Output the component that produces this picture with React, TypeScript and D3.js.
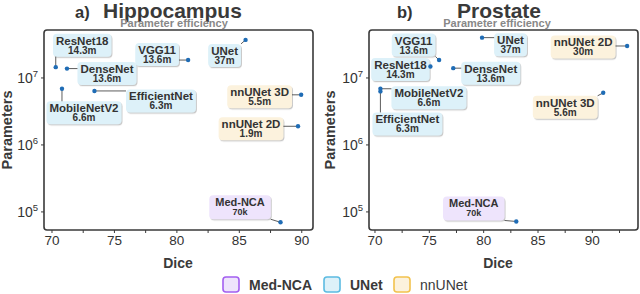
import React, { useEffect, useRef } from "react";
import * as d3 from "d3";

// model names and families (same order in both panels)
const hippoNames = ["ResNet18", "DenseNet", "VGG11", "UNet", "EfficientNet", "MobileNetV2", "nnUNet 3D", "nnUNet 2D", "Med-NCA"];
const hippoFamily = ["UNet", "UNet", "UNet", "UNet", "UNet", "UNet", "nnUNet", "nnUNet", "Med-NCA"];
const hippoDice = [70.3, 71.2, 80.9, 85.5, 73.4, 70.8, 89.95, 89.7, 88.3];
const hippoParams = [14.5e6, 13.8e6, 18.5e6, 37e6, 6.4e6, 6.9e6, 5.6e6, 1.9e6, 70e3];
const hippoParamText = ["14.3m", "13.6m", "13.6m", "37m", "6.3m", "6.6m", "5.5m", "1.9m", "70k"];

const prostNames = ["UNet", "nnUNet 2D", "VGG11", "ResNet18", "DenseNet", "MobileNetV2", "EfficientNet", "nnUNet 3D", "Med-NCA"];
const prostFamily = ["UNet", "nnUNet", "UNet", "UNet", "UNet", "UNet", "UNet", "nnUNet", "Med-NCA"];
const prostDice = [79.85, 93.2, 75.9, 75.1, 77.2, 70.5, 70.5, 91.0, 83.0];
const prostParams = [40e6, 30e6, 18.5e6, 14.8e6, 14e6, 6.9e6, 6.3e6, 6e6, 72e3];
const prostParamText = ["37m", "30m", "13.6m", "14.3m", "13.6m", "6.6m", "6.3m", "5.6m", "70k"];

const xTicks = [70, 75, 80, 85, 90];
const yTicks = [1e5, 1e6, 1e7];
const legendNames = ["Med-NCA", "UNet", "nnUNet"];

// label box offsets from the point, in pixels (layout only)
const hippoOffsets: [number, number][] = [
  [26.5, -22], [40, 5], [-31, -5.5], [-21, 15.5], [66.5, 10], [22, 24], [-41.5, 2], [-47, 2.5], [-40.5, -15],
];
const prostOffsets: [number, number][] = [
  [28.5, 7], [-44, 1], [-25.5, -15], [-30, 3], [37.5, 5], [48.5, 9], [27, 32.5], [-38, 14.5], [-42.5, -13],
];

const fills: Record<string, string> = { "Med-NCA": "#eee4fc", UNet: "#ddf1f9", nnUNet: "#fcf2dd" };
const strokes: Record<string, string> = { "Med-NCA": "#a35ff0", UNet: "#5cbbe1", nnUNet: "#f2c24e" };

const FONT = "'Liberation Sans', Arial, sans-serif";

const App = () => {
  const svgRef = useRef<SVGSVGElement>(null);

  useEffect(() => {
    const svg = d3.select(svgRef.current);
    svg.selectAll("*").remove();

    const defs = svg.append("defs");
    const f = defs.append("filter").attr("id", "sh").attr("x", "-20%").attr("y", "-20%").attr("width", "140%").attr("height", "160%");
    f.append("feDropShadow").attr("dx", 1).attr("dy", 1.2).attr("stdDeviation", 0.6)
      .attr("flood-color", "#888").attr("flood-opacity", 0.45);

    const panels = [
      {
        letter: "a)", title: "Hippocampus", titleX: 103, letterX: 75, subX: 174,
        x0: 44, x1: 313, xd: [69.36, 90.9], ylabX: 12, diceX: 178,
        names: hippoNames, fam: hippoFamily, dice: hippoDice, params: hippoParams, ptext: hippoParamText, off: hippoOffsets,
      },
      {
        letter: "b)", title: "Prostate", titleX: 457, letterX: 397, subX: 497,
        x0: 369, x1: 638, xd: [69.45, 94.2], ylabX: 335, diceX: 498,
        names: prostNames, fam: prostFamily, dice: prostDice, params: prostParams, ptext: prostParamText, off: prostOffsets,
      },
    ];

    const yTop = 30, yBot = 230;

    panels.forEach(p => {
      const g = svg.append("g");
      const x = d3.scaleLinear().domain(p.xd).range([p.x0, p.x1]);
      const y = d3.scaleLog().domain([Math.pow(10, 4.73), Math.pow(10, 7.716)]).range([yBot, yTop]);

      // titles
      g.append("text").attr("x", p.letterX).attr("y", 18).attr("font-size", 16.5).attr("font-weight", "bold")
        .attr("fill", "#333").text(p.letter);
      g.append("text").attr("x", p.titleX).attr("y", 18).attr("font-size", 21).attr("font-weight", "bold")
        .attr("fill", "#3a3a3a").text(p.title);
      g.append("text").attr("x", p.subX).attr("y", 26.5).attr("font-size", 11).attr("font-weight", "bold")
        .attr("text-anchor", "middle").attr("fill", "#888").text("Parameter efficiency");

      // frame
      g.append("rect").attr("x", p.x0).attr("y", yTop).attr("width", p.x1 - p.x0).attr("height", yBot - yTop)
        .attr("rx", 3).attr("fill", "none").attr("stroke", "#3a3a3a").attr("stroke-width", 1.6);

      // x ticks
      d3.range(70, p.xd[1], 2.5).forEach(t => {
        g.append("line").attr("x1", x(t)).attr("x2", x(t)).attr("y1", yBot).attr("y2", yBot + 3)
          .attr("stroke", "#3a3a3a").attr("stroke-width", 1);
      });
      xTicks.forEach(t => {
        g.append("text").attr("x", x(t)).attr("y", 245).attr("text-anchor", "middle").attr("font-size", 13.5)
          .attr("fill", "#333").text(t);
      });
      // y ticks
      yTicks.forEach(t => {
        g.append("line").attr("x1", p.x0 - 3).attr("x2", p.x0).attr("y1", y(t)).attr("y2", y(t))
          .attr("stroke", "#3a3a3a").attr("stroke-width", 1);
        const tx = g.append("text").attr("x", p.x0 - 6).attr("y", y(t) + 5).attr("text-anchor", "end")
          .attr("font-size", 14).attr("fill", "#333");
        tx.append("tspan").text("10");
        tx.append("tspan").attr("font-size", 9.5).attr("dy", -6).text(String(Math.round(Math.log10(t))));
      });

      // axis titles
      g.append("text").attr("x", p.diceX).attr("y", 268).attr("text-anchor", "middle").attr("font-size", 14)
        .attr("font-weight", "bold").attr("fill", "#3a3a3a").text("Dice");
      g.append("text").attr("transform", `translate(${p.ylabX},130) rotate(-90)`).attr("text-anchor", "middle")
        .attr("font-size", 14.5).attr("font-weight", "bold").attr("fill", "#3a3a3a").text("Parameters");

      // labels + leaders + points
      p.names.forEach((name, i) => {
        const px = x(p.dice[i]);
        const py = y(p.params[i]);
        const cx = px + p.off[i][0];
        const cy = py + p.off[i][1];
        const small = p.fam[i] === "Med-NCA";
        const lg = g.append("g");
        const rect = lg.append("rect").attr("fill", fills[p.fam[i]]).attr("rx", 4).attr("filter", "url(#sh)");
        const t1 = lg.append("text").attr("x", cx).attr("text-anchor", "middle").attr("font-size", small ? 11 : 11.5)
          .attr("font-weight", "bold").attr("fill", "#333").text(name);
        const t2 = lg.append("text").attr("x", cx).attr("text-anchor", "middle").attr("font-size", small ? 9 : 10)
          .attr("font-weight", "bold").attr("fill", "#333").text(p.ptext[i]);
        const w1 = (t1.node() as SVGTextElement).getComputedTextLength();
        const w2 = (t2.node() as SVGTextElement).getComputedTextLength();
        const w = Math.max(w1, w2) + (small ? 12 : 6);
        const h = small ? 24 : 23;
        const bx = cx - w / 2, by = cy - h / 2;
        rect.attr("x", bx).attr("y", by).attr("width", w).attr("height", h);
        t1.attr("y", by + 11);
        t2.attr("y", by + 20);

        const lx = Math.max(bx, Math.min(bx + w, px));
        const ly = Math.max(by, Math.min(by + h, py));
        g.append("line").attr("x1", px).attr("y1", py).attr("x2", lx).attr("y2", ly)
          .attr("stroke", "#333").attr("stroke-width", 0.8);
        g.append("circle").attr("cx", px).attr("cy", py).attr("r", 2.2).attr("fill", "#1f6cb5");
      });
    });

    // legend
    const legX = [223, 324, 394];
    legendNames.forEach((n, i) => {
      svg.append("rect").attr("x", legX[i]).attr("y", 277).attr("width", 16).attr("height", 15).attr("rx", 3)
        .attr("fill", fills[n]).attr("stroke", strokes[n]).attr("stroke-width", 1.6);
      svg.append("text").attr("x", legX[i] + 26).attr("y", 290).attr("font-size", 14)
        .attr("font-weight", n === "nnUNet" ? "normal" : "bold").attr("fill", "#3a3a3a").text(n);
    });
  }, []);

  return (
    <svg ref={svgRef} width={640} height={294}
      style={{ position: "fixed", left: 0, top: 0, background: "#fff", fontFamily: FONT }} />
  );
};

export default App;
